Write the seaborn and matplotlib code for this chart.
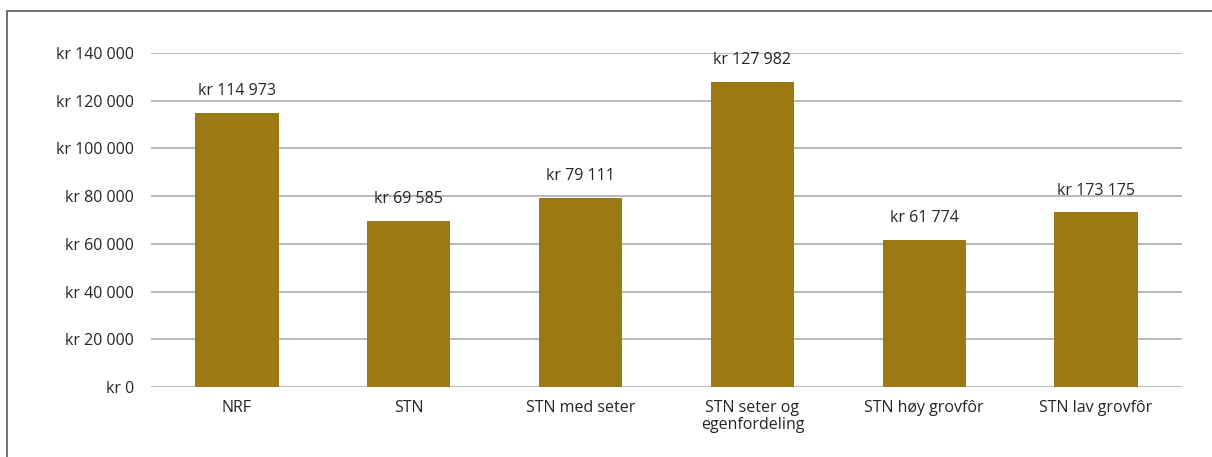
import matplotlib
matplotlib.use("Agg")
import matplotlib.pyplot as plt
import seaborn as sns
import pandas as pd
from matplotlib.patches import Rectangle
from matplotlib.ticker import FuncFormatter

categories = ["NRF", "STN", "STN med seter", "STN seter og\negenfordeling",
              "STN høy grovfôr", "STN lav grovfôr"]
values = [114973, 69585, 79111, 127982, 61774, 73175]
value_labels = ["kr 114 973", "kr 69 585", "kr 79 111", "kr 127 982",
                "kr 61 774", "kr 173 175"]
y_ticks = [0, 20000, 40000, 60000, 80000, 100000, 120000, 140000]

sns.set_theme(style="white")
plt.rcParams['font.family'] = ['Open Sans', 'DejaVu Sans']

df = pd.DataFrame({"cat": categories, "val": values})

fig = plt.figure(figsize=(12.12, 4.57), dpi=100)
ax = fig.add_axes([151/1212, 1 - 387/457, (1182-151)/1212, (387-53)/457])

sns.barplot(data=df, x="cat", y="val", color="#9B7913", width=0.485,
            saturation=1, ax=ax, zorder=3, linewidth=0)

ax.set_ylim(0, 140000)
ax.set_yticks(y_ticks)
ax.yaxis.set_major_formatter(FuncFormatter(
    lambda v, p: "kr " + f"{int(v):,}".replace(",", " ")))
ax.grid(axis="y", color="#A6A6A6", linewidth=1.1, zorder=0)
for s in ax.spines.values():
    s.set_visible(False)
ax.set_xlabel("")
ax.set_ylabel("")
fs = 11.5
ax.tick_params(axis="y", length=0, pad=12, labelsize=fs, labelcolor="#262626")
ax.tick_params(axis="x", length=0, pad=9, labelsize=fs, labelcolor="#262626")
for lab in ax.get_xticklabels():
    lab.set_linespacing(1.15)

for i, (v, t) in enumerate(zip(values, value_labels)):
    ax.annotate(t, (i, v), xytext=(0, 10), textcoords="offset points",
                ha="center", va="bottom", fontsize=fs, color="#262626")

fig.patches.append(Rectangle((7/1212, -0.1), 1.2, 1 - 11/457 + 0.1,
                             transform=fig.transFigure, fill=False,
                             edgecolor="#595959", linewidth=1.2))

fig.savefig("out.png", dpi=100)
